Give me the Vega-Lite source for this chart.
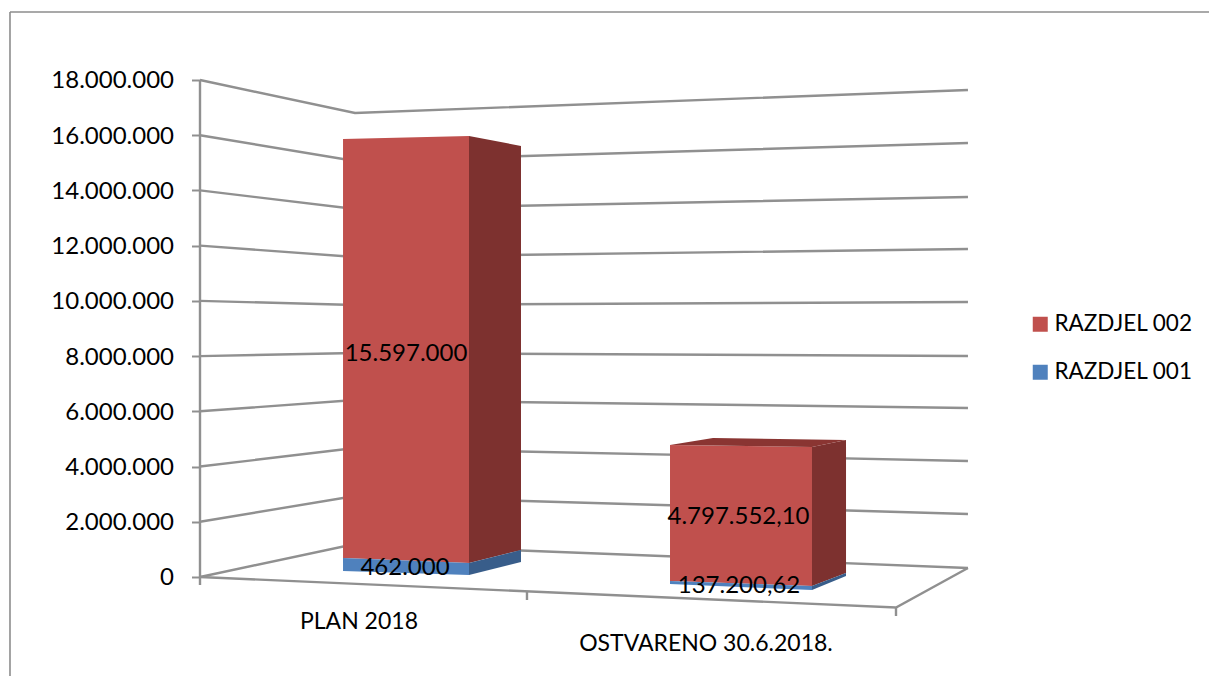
{
"$schema":"https://vega.github.io/schema/vega-lite/v6.json",
"width":768,"height":676,
"autosize":{"type":"none"},
"padding":{"left":200,"top":0,"right":241,"bottom":0},
"background":"white",
"config":{"view":{"stroke":null},"font":"Lato"},
"datasets":{
"frame":[
{"id":"top","x":-27.3,"y":20.463},{"id":"top","x":145,"y":20.463},
{"id":"left","x":-27.3,"y":20.463},{"id":"left","x":-27.3,"y":-3.586}],
"grid":[
{"id":"g18","x":0,"y":18},{"id":"g18","x":22.27,"y":16.805},{"id":"g18","x":110.34,"y":17.638},
{"id":"g16","x":0,"y":16},{"id":"g16","x":22.27,"y":15.066},{"id":"g16","x":110.34,"y":15.718},
{"id":"g14","x":0,"y":14},{"id":"g14","x":22.27,"y":13.328},{"id":"g14","x":110.34,"y":13.763},
{"id":"g12","x":0,"y":12},{"id":"g12","x":22.27,"y":11.59},{"id":"g12","x":110.34,"y":11.879},
{"id":"g10","x":0,"y":10},{"id":"g10","x":22.27,"y":9.851},{"id":"g10","x":110.34,"y":9.96},
{"id":"g08","x":0,"y":8},{"id":"g08","x":22.27,"y":8.113},{"id":"g08","x":110.34,"y":8.004},
{"id":"g06","x":0,"y":6},{"id":"g06","x":22.27,"y":6.411},{"id":"g06","x":110.34,"y":6.121},
{"id":"g04","x":0,"y":4},{"id":"g04","x":22.27,"y":4.672},{"id":"g04","x":110.34,"y":4.201},
{"id":"g02","x":0,"y":2},{"id":"g02","x":22.27,"y":2.934},{"id":"g02","x":110.34,"y":2.282},
{"id":"g00","x":0,"y":0},{"id":"g00","x":22.27,"y":1.195},{"id":"g00","x":110.34,"y":0.326},
{"id":"floor","x":0,"y":0},{"id":"floor","x":100,"y":-1.105},{"id":"floor","x":110.34,"y":0.326},
{"id":"wall","x":0,"y":18},{"id":"wall","x":0,"y":-0.29},
{"id":"t1","x":46.98,"y":-0.518},{"id":"t1","x":46.98,"y":-0.833},
{"id":"t2","x":100,"y":-1.105},{"id":"t2","x":100,"y":-1.412}],
"faces":[
{"face":"RAZDJEL 002","id":"p-red-front","x":20.55,"y":15.863,"bot":0.688},
{"face":"RAZDJEL 002","id":"p-red-front","x":38.65,"y":15.972,"bot":0.507},
{"face":"RAZDJEL 001","id":"p-blue-front","x":20.55,"y":0.688,"bot":0.217},
{"face":"RAZDJEL 001","id":"p-blue-front","x":38.65,"y":0.507,"bot":0.072},
{"face":"002 bok","id":"p-red-side","x":38.65,"y":15.972,"bot":0.507},
{"face":"002 bok","id":"p-red-side","x":46.12,"y":15.61,"bot":0.978},
{"face":"001 bok","id":"p-blue-side","x":38.65,"y":0.507,"bot":0.072},
{"face":"001 bok","id":"p-blue-side","x":46.12,"y":0.978,"bot":0.543},
{"face":"RAZDJEL 002","id":"o-red-front","x":67.53,"y":4.781,"bot":-0.145},
{"face":"RAZDJEL 002","id":"o-red-front","x":87.93,"y":4.708,"bot":-0.326},
{"face":"RAZDJEL 001","id":"o-blue-front","x":67.53,"y":-0.145,"bot":-0.254},
{"face":"RAZDJEL 001","id":"o-blue-front","x":87.93,"y":-0.326,"bot":-0.471},
{"face":"002 bok","id":"o-red-side","x":87.93,"y":4.708,"bot":-0.326},
{"face":"002 bok","id":"o-red-side","x":92.82,"y":4.962,"bot":0.145},
{"face":"001 bok","id":"o-blue-side","x":87.93,"y":-0.326,"bot":-0.471},
{"face":"001 bok","id":"o-blue-side","x":92.82,"y":0.145,"bot":0.036},
{"face":"002 vrh","id":"o-red-top","x":67.53,"y":4.781,"bot":4.781},
{"face":"002 vrh","id":"o-red-top","x":73.71,"y":5.034,"bot":4.759},
{"face":"002 vrh","id":"o-red-top","x":87.93,"y":4.98,"bot":4.708},
{"face":"002 vrh","id":"o-red-top","x":92.82,"y":4.962,"bot":4.962}],
"values":[
{"label":"15.597.000","x":29.6,"y":8.077},
{"label":"462.000","x":29.45,"y":0.326},
{"label":"4.797.552,10","x":77.37,"y":2.173},
{"label":"137.200,62","x":77.44,"y":-0.326}],
"cats":[
{"label":"PLAN 2018","x":22.84,"y":-1.63},
{"label":"OSTVARENO 30.6.2018.","x":72.7,"y":-2.43}]
},
"encoding":{
"x":{"field":"x","type":"quantitative","scale":{"domain":[0,110.345],"nice":false,"zero":false},"axis":null},
"y":{"field":"y","type":"quantitative","scale":{"domain":[-3.586,20.897],"nice":false,"zero":false},
 "axis":{"title":null,"domain":false,"grid":false,"values":[0,2,4,6,8,10,12,14,16,18],"tickSize":8.5,"tickWidth":2,"tickColor":"#909090","labelPadding":18,"labelOffset":1,"labelFont":"Lato","labelFontSize":24,"labelColor":"#000000","labelExpr":"replace(format(datum.value*1000000,','),/,/g,'.')"}}
},
"layer":[
{"data":{"name":"frame"},"mark":{"type":"line","stroke":"#8C8C8C","strokeWidth":1.6,"clip":false},"encoding":{"detail":{"field":"id"}}},
{"data":{"name":"grid"},"mark":{"type":"line","stroke":"#909090","strokeWidth":2.4},"encoding":{"detail":{"field":"id"}}},
{"data":{"name":"faces"},"mark":{"type":"area"},"encoding":{
 "detail":{"field":"id"},
 "y2":{"field":"bot"},
 "color":{"field":"face","type":"nominal","scale":{"domain":["RAZDJEL 002","RAZDJEL 001","002 bok","001 bok","002 vrh"],"range":["#C0504D","#4F81BD","#7D312F","#385D8A","#8A3532"]},
  "legend":{"values":["RAZDJEL 002","RAZDJEL 001"],"title":null,"orient":"none","legendX":829,"legendY":313,"symbolType":"square","symbolSize":225,"symbolStrokeWidth":0,"labelFont":"Lato","labelFontSize":22.5,"labelColor":"#000000","labelOffset":3,"rowPadding":25,"labelLimit":300}}}},
{"data":{"name":"values"},"mark":{"type":"text","fontSize":24,"color":"#000000","align":"center","baseline":"middle"},"encoding":{"text":{"field":"label"}}},
{"data":{"name":"cats"},"mark":{"type":"text","fontSize":23,"color":"#000000","align":"center","baseline":"middle"},"encoding":{"text":{"field":"label"}}}
]
}
